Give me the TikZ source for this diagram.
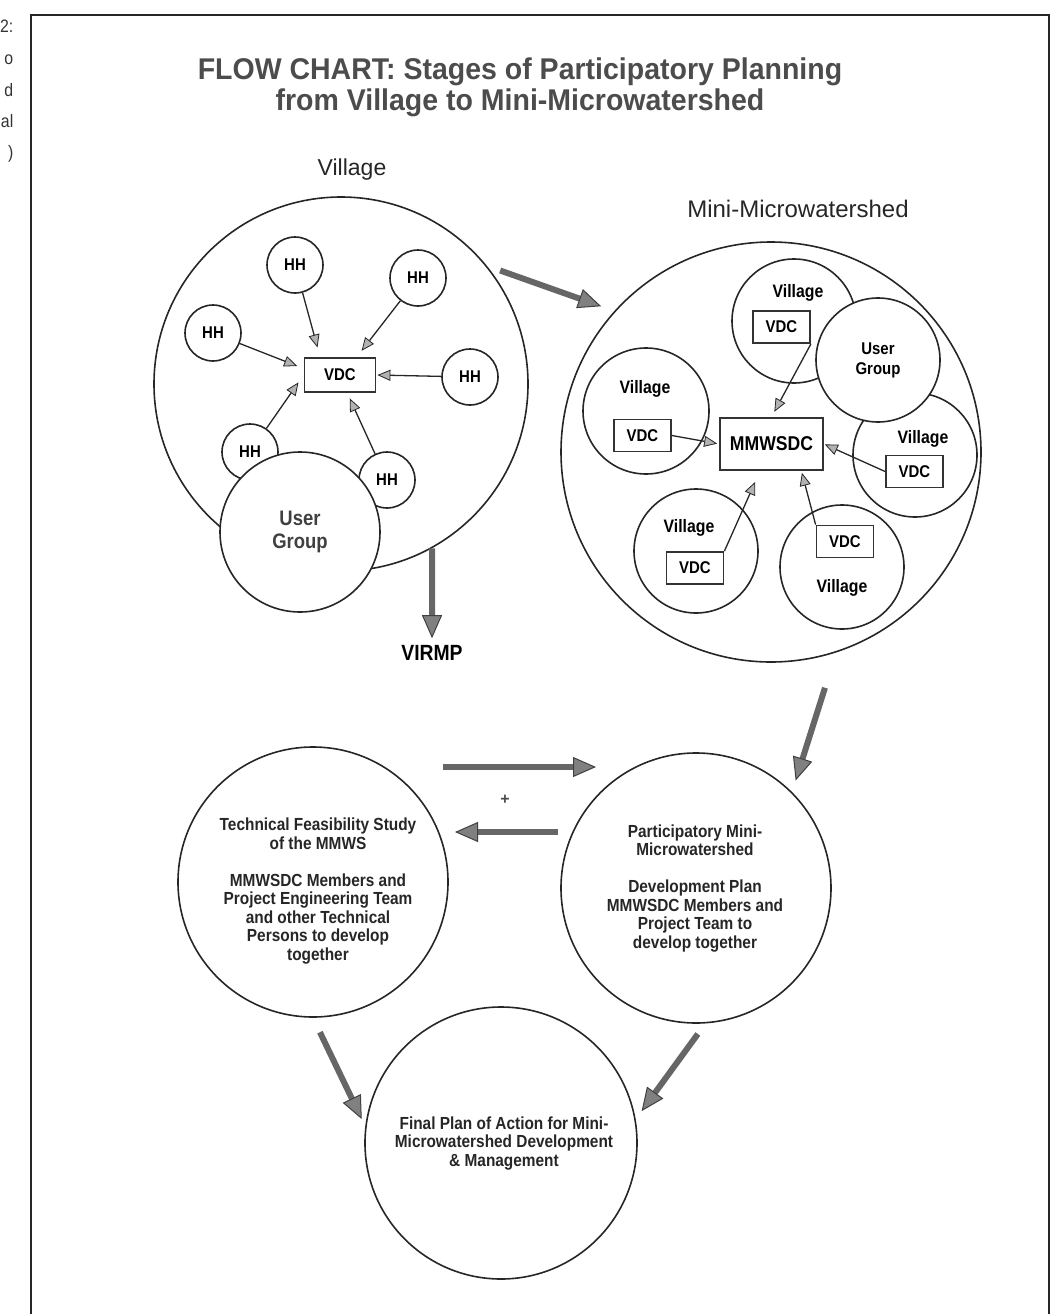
\documentclass[tikz,border=0pt]{standalone}
\usepackage{fontspec}
\setmainfont{Liberation Sans}
\newfontfamily\narrowfont[FakeStretch=0.88]{Liberation Sans}
\newfontfamily\headfont[FakeStretch=0.95]{Liberation Sans}
\usetikzlibrary{arrows.meta}

\begin{document}
\begin{tikzpicture}[x=1pt,y=-1pt,
  ring/.style={circle,draw=black!85,line width=1.6pt,inner sep=0pt},
  hhnode/.style={ring,minimum size=56pt,font=\narrowfont\bfseries\fontsize{17}{18}\selectfont},
  villring/.style={ring,fill=white,minimum size=124pt},
  stagering/.style={ring,minimum size=270pt},
  vdcbox/.style={draw=black!80,line width=1.8pt,inner sep=0pt,minimum width=57pt,minimum height=32pt,
    font=\narrowfont\bfseries\fontsize{17}{18}\selectfont},
  villlbl/.style={anchor=base,inner sep=0pt,font=\narrowfont\bfseries\fontsize{18}{19}\selectfont},
  stagetxt/.style={align=center,inner sep=0pt,text=black!85,font=\narrowfont\bfseries\fontsize{17.5}{18.5}\selectfont},
  feed/.style={line width=1.3pt,draw=black!85,-{Triangle[length=13pt,width=11pt,fill=black!30,color=black!85,line width=0.8pt]}},
  stagearrow/.style={line width=6pt,draw=black!60,-{Triangle[length=23pt,width=20pt,fill=black!50,color=black!75,line width=1pt]}},
  margtxt/.style={anchor=base east,inner sep=0pt,text=black!80,font=\narrowfont\fontsize{18}{20}\selectfont}]

\useasboundingbox (0,0) rectangle (1056,1314);
\draw[line width=2pt,black!85] (31,1314) -- (31,15) -- (1049,15) -- (1049,1314);

\node[margtxt] (m1) at (13.5,33) {2:};
\node[margtxt] (m2) at (13.5,65) {o};
\node[margtxt] (m3) at (13.5,96) {d};
\node[margtxt] (m4) at (13.5,127) {al};
\node[margtxt] (m5) at (13.5,158) {)};

\node[anchor=base,inner sep=0pt,text=black!70,font=\headfont\bfseries\fontsize{30}{31}\selectfont] (title1) at (520,80)
  {FLOW CHART: Stages of Participatory Planning};
\node[anchor=base,inner sep=0pt,text=black!70,font=\headfont\bfseries\fontsize{30}{31}\selectfont] (title2) at (520,110)
  {from Village to Mini-Microwatershed};

% village level
\node[anchor=base,inner sep=0pt,text=black!85,font=\fontsize{23}{24}\selectfont] (villhead) at (352,175) {Village};
\node[ring,minimum size=374pt] (vil) at (341,384) {};
\node[hhnode] (hh1) at (295,265) {HH};
\node[hhnode] (hh2) at (418,278) {HH};
\node[hhnode] (hh3) at (213,333) {HH};
\node[hhnode] (hh4) at (470,377) {HH};
\node[hhnode,fill=white] (hh5) at (250,452) {HH};
\node[hhnode,fill=white] (hh6) at (387,480) {HH};
\node[ring,fill=white,minimum size=160pt,align=center,text=black!75,
  font=\narrowfont\bfseries\fontsize{21}{23}\selectfont] (vug) at (300,532) {User\\Group};
\node[vdcbox,minimum width=71pt,minimum height=34pt] (vdc) at (340,375) {VDC};

\draw[feed,shorten >=10pt] (hh1) -- (vdc.138);
\draw[feed,shorten >=8pt] (hh2) -- (vdc.47);
\draw[feed,shorten >=7pt] (hh3) -- (vdc.170);
\draw[feed,shorten >=1pt] (hh4) -- (vdc.east);
\draw[feed,shorten >=9pt] (hh5) -- (vdc.west);
\draw[feed,shorten >=6pt] (hh6) -- (vdc.-68);

\node[inner sep=0pt,font=\narrowfont\bfseries\fontsize{22}{23}\selectfont] (virmp) at (432,653) {VIRMP};
\draw[stagearrow,shorten >=7pt] (vil.-61) -- (virmp.north);

% mini-microwatershed level
\node[anchor=base,inner sep=0pt,text=black!85,font=\fontsize{24}{25}\selectfont] (mmhead) at (798,217) {Mini-Microwatershed};
\node[ring,minimum size=420pt] (mmws) at (771,452) {};
\node[villring] (tvil) at (794,321) {};
\node[villring,minimum size=126pt] (lvil) at (646,411) {};
\node[villring] (rvil) at (915,455) {};
\node[villring] (blvil) at (696,551) {};
\node[villring] (brvil) at (842,567) {};
\node[ring,fill=white,minimum size=124pt,align=center,
  font=\narrowfont\bfseries\fontsize{17}{20}\selectfont] (mug) at (878,360) {User\\Group};

\node[villlbl] (tvlbl) at (798,297) {Village};
\node[villlbl] (lvlbl) at (645,393) {Village};
\node[villlbl] (rvlbl) at (923,443) {Village};
\node[villlbl] (blvlbl) at (689,532) {Village};
\node[villlbl] (brvlbl) at (842,592) {Village};

\node[vdcbox] (tvdc) at (781.5,327) {VDC};
\node[vdcbox] (lvdc) at (642.5,435.5) {VDC};
\node[vdcbox] (rvdc) at (914.5,471.5) {VDC};
\node[vdcbox] (blvdc) at (695,568) {VDC};
\node[vdcbox] (brvdc) at (845,541.5) {VDC};
\node[vdcbox,minimum width=103pt,minimum height=52pt,font=\narrowfont\bfseries\fontsize{20}{21}\selectfont] (mmwsdc) at (771.5,444) {MMWSDC};

\draw[feed,shorten >=6pt] (tvdc.south east) -- (mmwsdc.north);
\draw[feed,shorten >=2pt] (lvdc.east) -- (mmwsdc.west);
\draw[feed,shorten >=1pt] (rvdc.west) -- (mmwsdc.east);
\draw[feed,shorten >=12pt] (blvdc.north east) -- (mmwsdc.247);
\draw[feed,shorten >=2pt] (brvdc.north west) -- (mmwsdc.318);

\draw[stagearrow,shorten <=14pt,shorten >=14pt] (vil.39) -- (mmws.138);

% planning stages
\node[stagering] (part) at (696,888) {};
\node[stagering] (tech) at (313,882) {};
\node[stagering,minimum size=272pt] (final) at (501,1143) {};

\node[stagetxt] (parttxt) at (695,888.5) {Participatory Mini-\\Microwatershed\\[18.5pt]Development Plan\\MMWSDC Members and\\Project Team to\\develop together};
\node[stagetxt] (techtxt) at (318,891) {Technical Feasibility Study\\of the MMWS\\[18.5pt]MMWSDC Members and\\Project Engineering Team\\and other Technical\\Persons to develop\\together};
\node[stagetxt] (finaltxt) at (504,1143) {Final Plan of Action for Mini-\\Microwatershed Development\\\& Management};

\coordinate (fwdstart) at (443,767);
\coordinate (fwdend) at (596,767);
\coordinate (backstart) at (558,832);
\coordinate (backend) at (455,832);
\node[inner sep=0pt,text=black!70,font=\bfseries\fontsize{16}{16}\selectfont] (plus) at (505,800) {+};

\draw[stagearrow,shorten <=37pt,shorten >=12pt] (mmws.-72) -- (part.45);
\draw[stagearrow] (fwdstart) -- (fwdend);
\draw[stagearrow] (backstart) -- (backend);
\draw[stagearrow,shorten <=16pt,shorten >=8pt] (tech.-90) -- (final.173);
\draw[stagearrow,shorten <=13pt,shorten >=10pt] (part.-86) -- (final.10);
\end{tikzpicture}
\end{document}
